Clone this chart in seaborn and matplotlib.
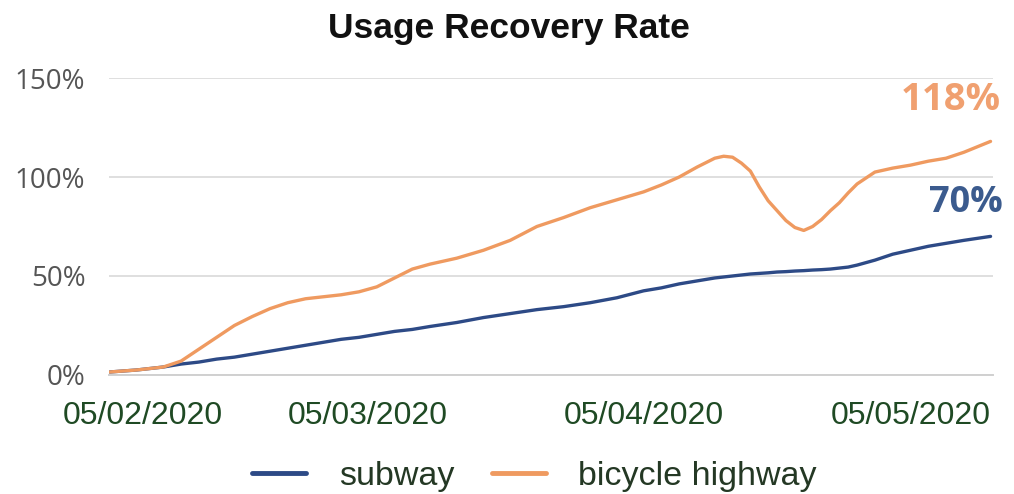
import matplotlib
matplotlib.use("Agg")
import matplotlib.pyplot as plt
import matplotlib.transforms as mtransforms
from matplotlib.lines import Line2D
import pandas as pd
import seaborn as sns

# Days since 05/02/2020 at which each reading was taken
day_offsets = [0, 3, 6, 8, 10, 12, 14, 16, 18, 20, 22, 24, 26, 28, 30, 32, 34, 36,
               39, 42, 45, 48, 51, 54, 57, 60,
               62, 64, 66, 68,
               69, 70, 71, 72, 73, 74, 75, 76, 77, 78, 79, 80, 81, 82, 83, 84,
               86, 88, 90, 92, 94, 96, 99]

# Recovery rate (%) relative to normal usage
subway = [1.5, 2.5, 4, 5.5, 6.5, 8, 9, 10.5, 12, 13.5, 15, 16.5, 18, 19, 20.5, 22, 23, 24.5,
          26.5, 29, 31, 33, 34.5, 36.5, 39, 42.5,
          44, 46, 47.5, 49,
          49.5, 50, 50.5, 51, 51.3, 51.6, 52, 52.2, 52.5, 52.7, 53, 53.2, 53.5, 54, 54.5, 55.5,
          58, 61, 63, 65, 66.5, 68, 70]
bicycle = [1.5, 2.5, 4, 7, 13, 19, 25, 29.5, 33.5, 36.5, 38.5, 39.5, 40.5, 42, 44.5, 49, 53.5, 56,
           59, 63, 68, 75, 79.5, 84.5, 88.5, 92.5,
           96, 100, 105, 109.5,
           110.5, 110, 107, 103, 95, 88, 83, 78, 74.5, 73, 75, 78.5, 83, 87, 92, 96.5,
           102.5, 104.5, 106, 108, 109.5, 112.5, 118]

series_names = ["subway", "bicycle highway"]
tick_dates = ["2020-02-05", "2020-03-05", "2020-04-05", "2020-05-05"]
tick_labels = ["05/02/2020", "05/03/2020", "05/04/2020", "05/05/2020"]
y_ticks = [0, 50, 100, 150]

start = pd.Timestamp("2020-02-05")
dates = [start + pd.Timedelta(days=d) for d in day_offsets]
df = pd.DataFrame({
    "date": dates * 2,
    "rate": subway + bicycle,
    "mode": [series_names[0]] * len(dates) + [series_names[1]] * len(dates),
})

blue = "#2d4a86"
orange = "#ef9a60"
palette = {series_names[0]: blue, series_names[1]: orange}

sns.set_theme(style="white")
plt.rcParams["font.family"] = ["Liberation Sans", "DejaVu Sans"]

fig = plt.figure(figsize=(10.14, 4.94), dpi=100)
ax = fig.add_axes([0.1075, 0.241, 0.872, 0.601])

sns.lineplot(data=df, x="date", y="rate", hue="mode", palette=palette,
             linewidth=2.4, ax=ax, legend=False)

ax.set_xlim(start - pd.Timedelta(days=0.1), start + pd.Timedelta(days=99.3))
ax.set_ylim(0, 150)
ax.set_yticks(y_ticks)
ax.set_yticklabels([f"{v}%" for v in y_ticks], fontsize=20, color="#555555",
                   family=["Open Sans", "DejaVu Sans"])
ax.set_xticks([pd.Timestamp(t) for t in tick_dates])
ax.set_xticklabels(tick_labels, fontsize=23, color="#1f4a24")
ax.set_xlabel("")
ax.set_ylabel("")

ax.yaxis.grid(True, color="#d9d9d9", linewidth=1.2)
ax.set_axisbelow(True)
for side in ["top", "right", "left"]:
    ax.spines[side].set_visible(False)
ax.spines["bottom"].set_color("#d0d0d0")
ax.spines["bottom"].set_linewidth(1.4)
ax.tick_params(axis="x", length=9, width=1.2, color="#d0d0d0", pad=9.5)
ax.tick_params(axis="y", length=0, pad=17)

# Keep the first date label inside the figure edge
first = ax.xaxis.get_major_ticks()[0].label1
first.set_transform(first.get_transform() +
                    mtransforms.ScaledTranslation(0.33, 0, fig.dpi_scale_trans))

# End-of-series value labels
ax.text(1.008, bicycle[-1] + 21, f"{bicycle[-1]:.0f}%", transform=ax.get_yaxis_transform(),
        ha="right", va="center", fontsize=27.5, fontweight="bold", color="#f0a070",
        family=["Open Sans", "DejaVu Sans"])
ax.text(1.011, subway[-1] + 16.8, f"{subway[-1]:.0f}%", transform=ax.get_yaxis_transform(),
        ha="right", va="center", fontsize=26, fontweight="bold", color="#3b5b8e",
        family=["Open Sans", "DejaVu Sans"])

fig.text(0.502, 0.943, "Usage Recovery Rate", ha="center", va="center",
         fontsize=25.5, fontweight="bold", color="#111111")

handles = [Line2D([0], [0], color=palette[n], linewidth=3.5) for n in series_names]
leg = fig.legend(handles, series_names, loc="center", ncol=2,
                 bbox_to_anchor=(0.527, 0.036), frameon=False, fontsize=24.5,
                 handlelength=1.6, handletextpad=0.95, columnspacing=1.1)
for t in leg.get_texts():
    t.set_color("#243824")

fig.savefig("out.png", dpi=100)
